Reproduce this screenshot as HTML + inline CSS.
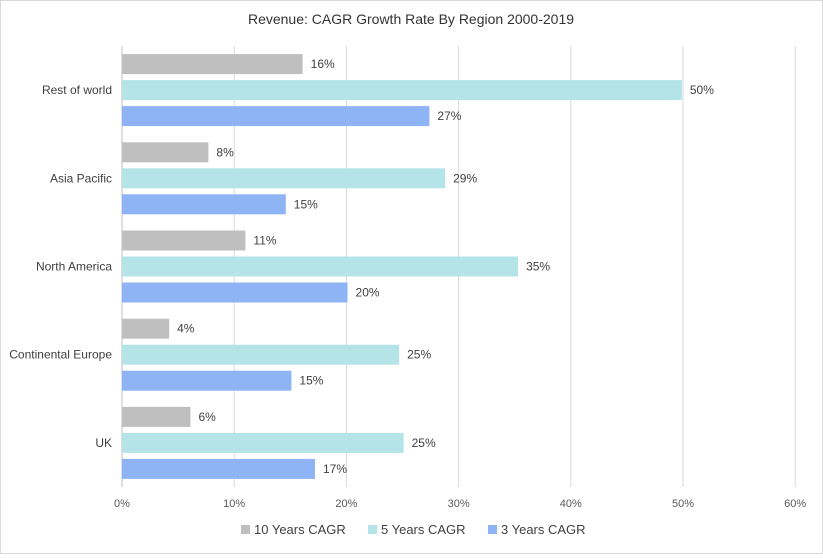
<!DOCTYPE html>
<html><head><meta charset="utf-8"><style>
body{margin:0;background:#fff;font-family:"Liberation Sans",Arial,sans-serif;}
svg text{font-family:"Liberation Sans",Arial,sans-serif;}
</style></head><body>
<svg id="chart" width="823" height="554">
<rect x="0.5" y="0.5" width="822" height="553" fill="#fff" stroke="#d9d9d9"/>
<text x="411" y="24" text-anchor="middle" font-size="14" fill="#333">Revenue: CAGR Growth  Rate By Region 2000-2019</text>
<g id="grid"></g><g id="bars"></g><g id="labels"></g>
<g>
<rect x="241" y="525" width="9" height="9" fill="#bfbfbf"/>
<text x="254" y="534" font-size="13" fill="#404040">10 Years CAGR</text>
<rect x="368" y="525" width="9" height="9" fill="#b4e4e8"/>
<text x="381" y="534" font-size="13" fill="#404040">5 Years CAGR</text>
<rect x="488" y="525" width="9" height="9" fill="#8fb4f5"/>
<text x="501" y="534" font-size="13" fill="#404040">3 Years CAGR</text>
</g>
</svg>
<script>
const categories=["Rest of world","Asia Pacific","North America","Continental Europe","UK"];
const tenYears=[16.1,7.7,11.0,4.2,6.1];
const fiveYears=[49.9,28.8,35.3,24.7,25.1];
const threeYears=[27.4,14.6,20.1,15.1,17.2];
const ticks=[0,10,20,30,40,50,60];
const ns="http://www.w3.org/2000/svg";
const x0=122,pxPer=11.22,plotTop=46,plotBottom=487;
const band=(plotBottom-plotTop)/categories.length;
const xs=v=>x0+v*pxPer;
function mk(tag,attrs,parent){const e=document.createElementNS(ns,tag);for(const k in attrs)e.setAttribute(k,attrs[k]);document.getElementById(parent).appendChild(e);return e;}
ticks.forEach(t=>{
 const l=mk("line",{x1:xs(t),x2:xs(t),y1:plotTop,y2:plotBottom,stroke:t===0?"#bfbfbf":"#d9d9d9"},"grid");
 
 
 const tx=mk("text",{x:xs(t),y:507,"text-anchor":"middle","font-size":"11","fill":"#595959"},"grid");
 tx.textContent=t+"%";
 
 
});
const series=[[tenYears,"#bfbfbf","10y"],[fiveYears,"#b4e4e8","5y"],[threeYears,"#8fb4f5","3y"]];
categories.forEach((c,i)=>{
 const cy=plotTop+band*i+band/2;
 const ct=mk("text",{x:112,y:cy+4,"text-anchor":"end","font-size":"12","fill":"#404040"},"labels");
 ct.textContent=c;
 
 
 series.forEach((s,j)=>{
  const yc=cy+(j-1)*26;
  const r=mk("rect",{x:x0,y:yc-10,width:xs(s[0][i])-x0,height:20,fill:s[1]},"bars");
  
  
  const lt=mk("text",{x:xs(s[0][i])+8,y:yc+4,"font-size":"12","fill":"#404040"},"labels");
  lt.textContent=Math.round(s[0][i])+"%";
  
  
 });
});
</script>
</body></html>
